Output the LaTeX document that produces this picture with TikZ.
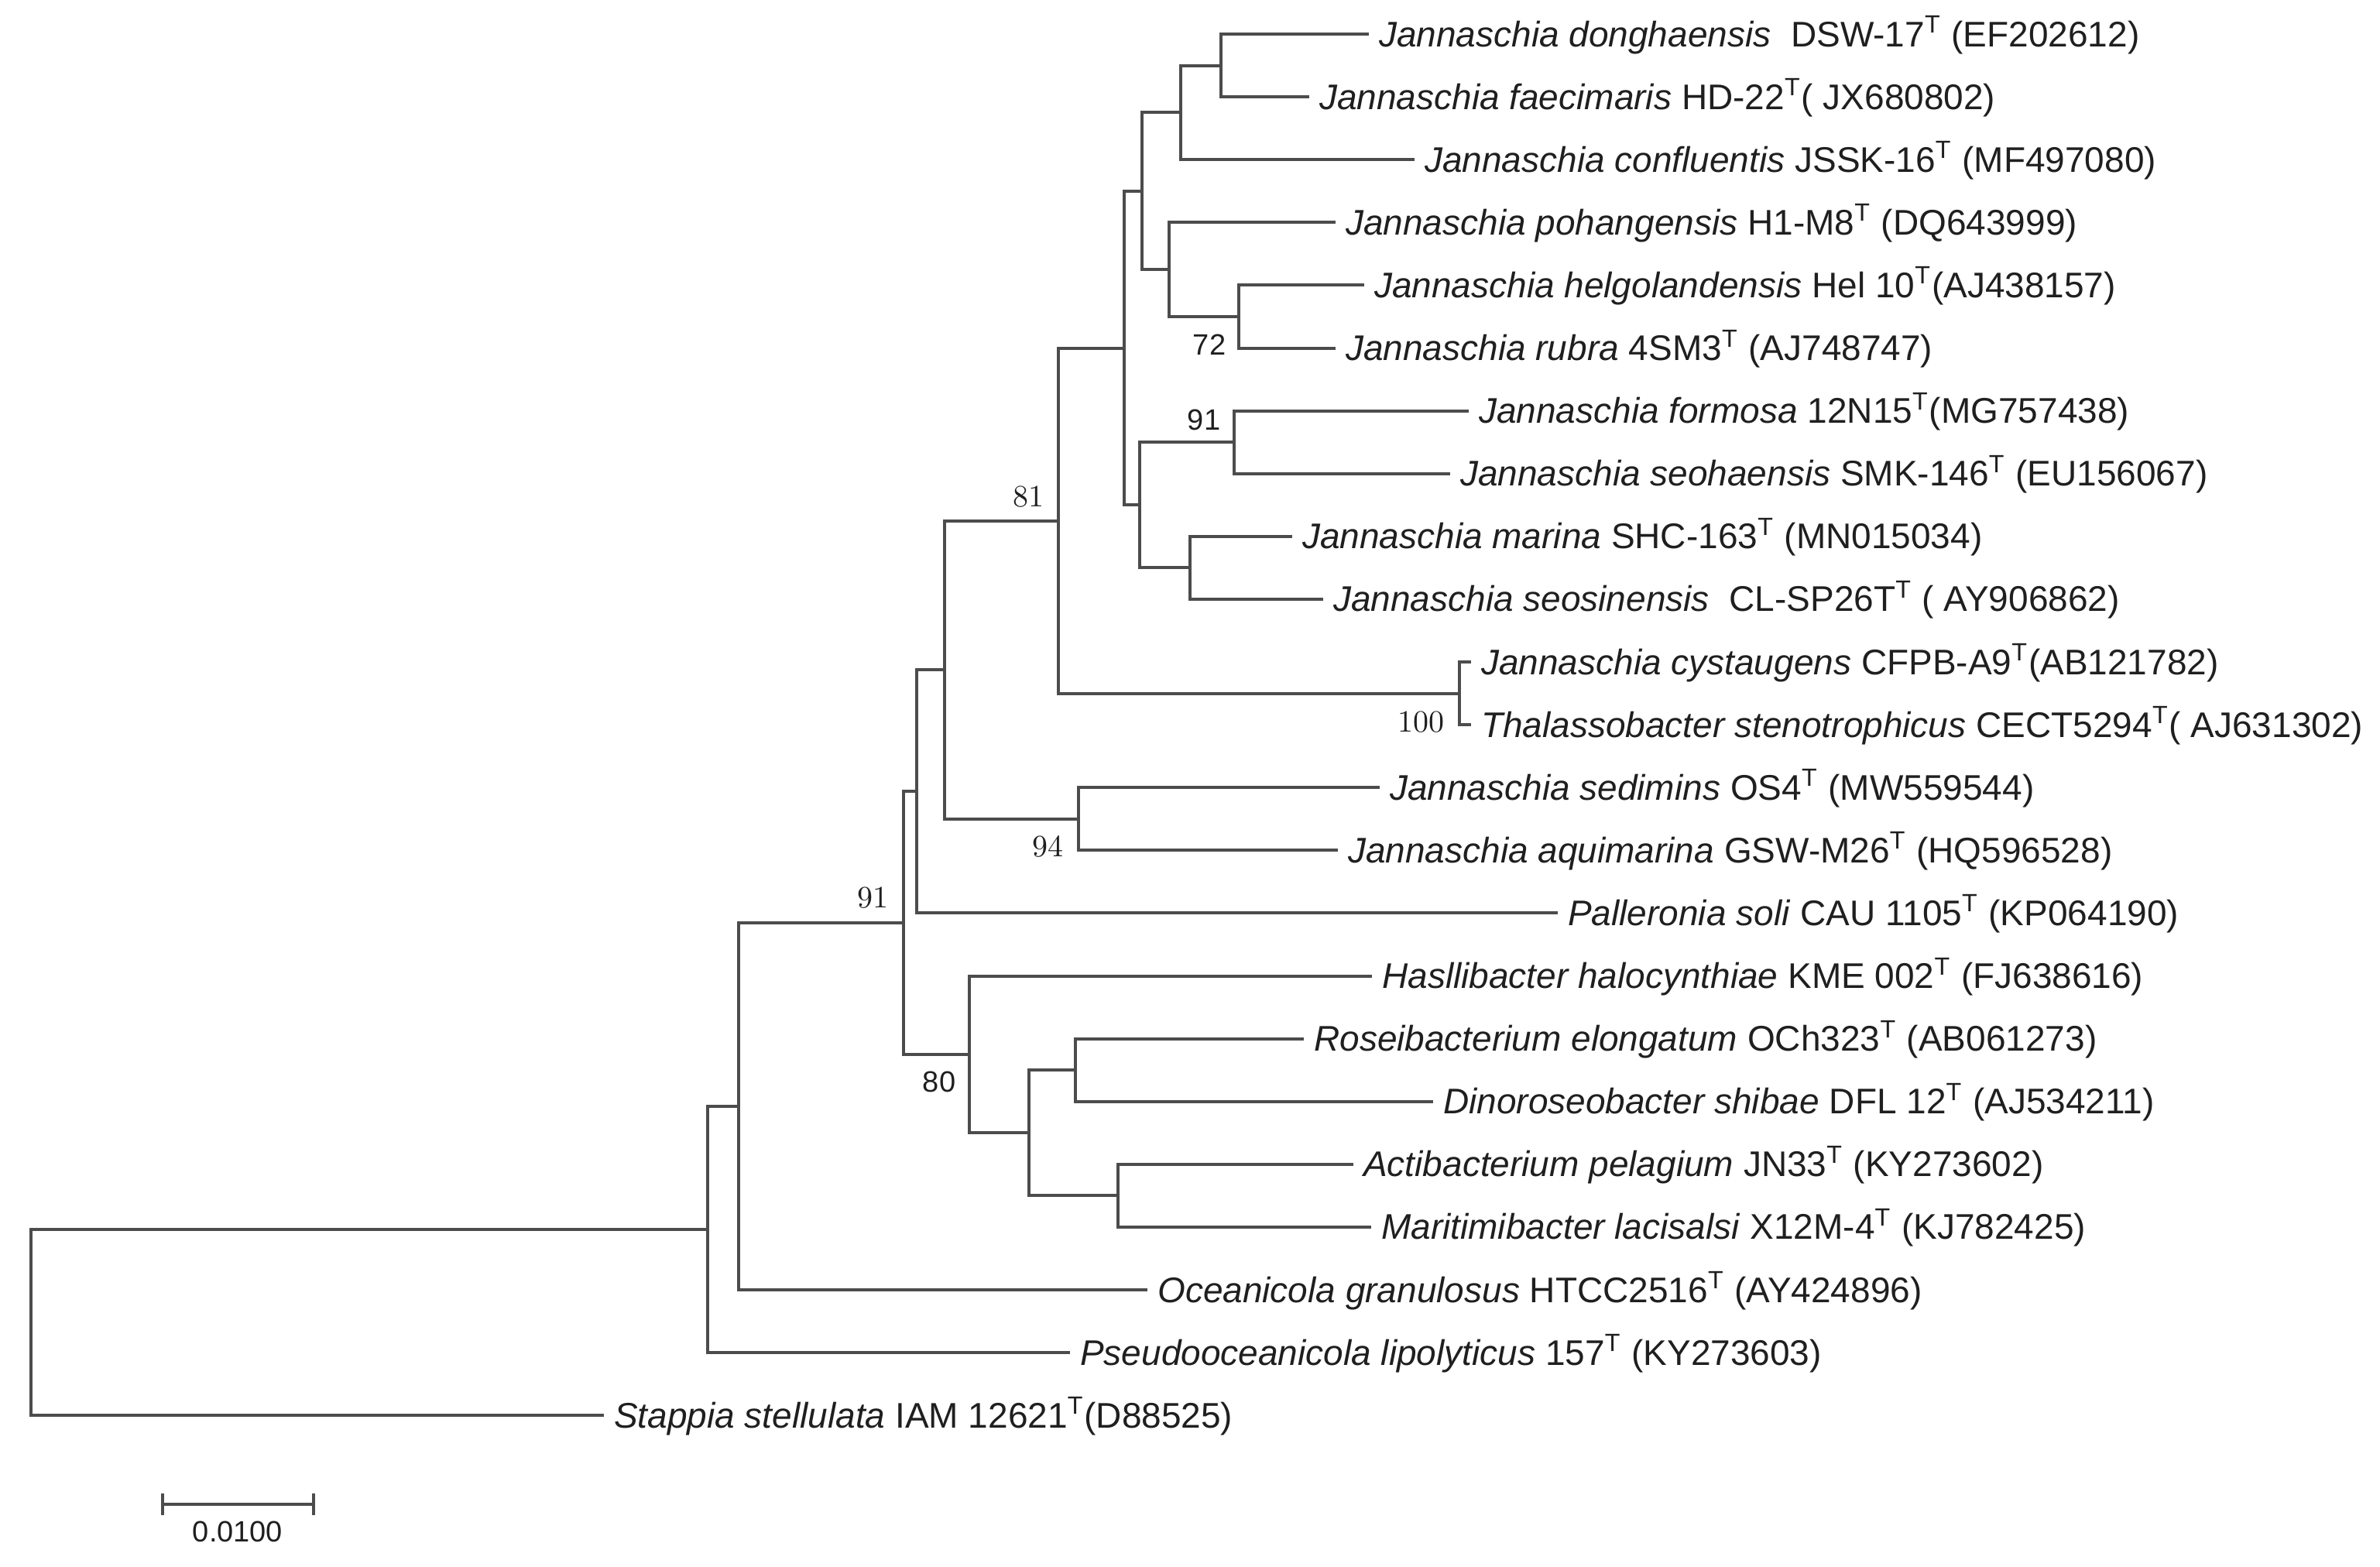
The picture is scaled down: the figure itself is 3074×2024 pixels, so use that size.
\documentclass[tikz,border=0pt]{standalone}
\usepackage{fontspec}
\newfontfamily\arialf{Liberation Sans}
\begin{document}
\begin{tikzpicture}[x=0.25pt,y=-0.25pt,
  br/.style={draw=black!70, line width=1pt, line cap=rect, line join=miter},
  leaf/.style={anchor=base west, inner sep=0pt, xshift=3.6pt, yshift=-4pt,
    font=\arialf\fontsize{11.5}{13}\selectfont, text=black!88},
  bss/.style={inner sep=0pt, font=\arialf\fontsize{9.5}{11}\selectfont, text=black!88},
  bsr/.style={inner sep=0pt, font=\rmfamily\fontsize{10}{12}\selectfont, text=black!88}]
\useasboundingbox (0,0) rectangle (3074,2024);

% leaf ends
\coordinate (l1) at (1766,44);
\coordinate (l2) at (1689,125.1);
\coordinate (l3) at (1825,206.2);
\coordinate (l4) at (1723,287.3);
\coordinate (l5) at (1760,368.4);
\coordinate (l6) at (1723,449.5);
\coordinate (l7) at (1895,530.6);
\coordinate (l8) at (1871,611.7);
\coordinate (l9) at (1667,692.8);
\coordinate (l10) at (1707,773.9);
\coordinate (l11) at (1898,855);
\coordinate (l12) at (1898,936.1);
\coordinate (l13) at (1780,1017.2);
\coordinate (l14) at (1726,1098.3);
\coordinate (l15) at (2010,1179.4);
\coordinate (l16) at (1770,1260.5);
\coordinate (l17) at (1682,1341.6);
\coordinate (l18) at (1849,1422.7);
\coordinate (l19) at (1746,1503.8);
\coordinate (l20) at (1769,1584.9);
\coordinate (l21) at (1480,1666);
\coordinate (l22) at (1380,1747.1);
\coordinate (l23) at (778,1828.2);

% internal nodes
\coordinate (n1) at (1577,84.55);
\coordinate (n2) at (1525,145.4);
\coordinate (n4) at (1600,408.95);
\coordinate (n5) at (1510,348.1);
\coordinate (n3) at (1475,246.75);
\coordinate (n7) at (1594,571.15);
\coordinate (n9) at (1537,733.35);
\coordinate (n8) at (1472,652.25);
\coordinate (n6) at (1452,449.5);
\coordinate (n11) at (1885,895.55);
\coordinate (n10) at (1367,672.5);
\coordinate (n13) at (1393,1057.75);
\coordinate (n12) at (1220,865.1);
\coordinate (n14) at (1184,1022.25);
\coordinate (n17) at (1389,1382.15);
\coordinate (n19) at (1444,1544.35);
\coordinate (n18) at (1329,1463.25);
\coordinate (n16) at (1252,1361.9);
\coordinate (n15) at (1167,1192.1);
\coordinate (n20) at (954,1429.05);
\coordinate (n21) at (914,1588.1);
\coordinate (root) at (40,1708.15);

% branches
\draw[br] (n1) |- (l1); \draw[br] (n1) |- (l2);
\draw[br] (n2) |- (n1); \draw[br] (n2) |- (l3);
\draw[br] (n4) |- (l5); \draw[br] (n4) |- (l6);
\draw[br] (n5) |- (l4); \draw[br] (n5) |- (n4);
\draw[br] (n3) |- (n2); \draw[br] (n3) |- (n5);
\draw[br] (n7) |- (l7); \draw[br] (n7) |- (l8);
\draw[br] (n9) |- (l9); \draw[br] (n9) |- (l10);
\draw[br] (n8) |- (n7); \draw[br] (n8) |- (n9);
\draw[br] (n6) |- (n3); \draw[br] (n6) |- (n8);
\draw[br] (n11) |- (l11); \draw[br] (n11) |- (l12);
\draw[br] (n10) |- (n6); \draw[br] (n10) |- (n11);
\draw[br] (n13) |- (l13); \draw[br] (n13) |- (l14);
\draw[br] (n12) |- (n10); \draw[br] (n12) |- (n13);
\draw[br] (n14) |- (n12); \draw[br] (n14) |- (l15);
\draw[br] (n17) |- (l17); \draw[br] (n17) |- (l18);
\draw[br] (n19) |- (l19); \draw[br] (n19) |- (l20);
\draw[br] (n18) |- (n17); \draw[br] (n18) |- (n19);
\draw[br] (n16) |- (l16); \draw[br] (n16) |- (n18);
\draw[br] (n15) |- (n14); \draw[br] (n15) |- (n16);
\draw[br] (n20) |- (n15); \draw[br] (n20) |- (l21);
\draw[br] (n21) |- (n20); \draw[br] (n21) |- (l22);
\draw[br] (root) |- (n21); \draw[br] (root) |- (l23);

% leaf labels
\node[leaf] (t1) at (l1) {\textit{Jannaschia donghaensis}\ \ DSW-17\textsuperscript{T} (EF202612)};
\node[leaf] (t2) at (l2) {\textit{Jannaschia faecimaris} HD-22\textsuperscript{T}( JX680802)};
\node[leaf] (t3) at (l3) {\textit{Jannaschia confluentis} JSSK-16\textsuperscript{T} (MF497080)};
\node[leaf] (t4) at (l4) {\textit{Jannaschia pohangensis} H1-M8\textsuperscript{T} (DQ643999)};
\node[leaf] (t5) at (l5) {\textit{Jannaschia helgolandensis} Hel 10\textsuperscript{T}(AJ438157)};
\node[leaf] (t6) at (l6) {\textit{Jannaschia rubra} 4SM3\textsuperscript{T} (AJ748747)};
\node[leaf] (t7) at (l7) {\textit{Jannaschia formosa} 12N15\textsuperscript{T}(MG757438)};
\node[leaf] (t8) at (l8) {\textit{Jannaschia seohaensis} SMK-146\textsuperscript{T} (EU156067)};
\node[leaf] (t9) at (l9) {\textit{Jannaschia marina} SHC-163\textsuperscript{T} (MN015034)};
\node[leaf] (t10) at (l10) {\textit{Jannaschia seosinensis}\ \ CL-SP26T\textsuperscript{T} ( AY906862)};
\node[leaf] (t11) at (l11) {\textit{Jannaschia cystaugens} CFPB-A9\textsuperscript{T}(AB121782)};
\node[leaf] (t12) at (l12) {\textit{Thalassobacter stenotrophicus} CECT5294\textsuperscript{T}( AJ631302)};
\node[leaf] (t13) at (l13) {\textit{Jannaschia sedimins} OS4\textsuperscript{T} (MW559544)};
\node[leaf] (t14) at (l14) {\textit{Jannaschia aquimarina} GSW-M26\textsuperscript{T} (HQ596528)};
\node[leaf] (t15) at (l15) {\textit{Palleronia soli} CAU 1105\textsuperscript{T} (KP064190)};
\node[leaf] (t16) at (l16) {\textit{Hasllibacter halocynthiae} KME 002\textsuperscript{T} (FJ638616)};
\node[leaf] (t17) at (l17) {\textit{Roseibacterium elongatum} OCh323\textsuperscript{T} (AB061273)};
\node[leaf] (t18) at (l18) {\textit{Dinoroseobacter shibae} DFL 12\textsuperscript{T} (AJ534211)};
\node[leaf] (t19) at (l19) {\textit{Actibacterium pelagium} JN33\textsuperscript{T} (KY273602)};
\node[leaf] (t20) at (l20) {\textit{Maritimibacter lacisalsi} X12M-4\textsuperscript{T} (KJ782425)};
\node[leaf] (t21) at (l21) {\textit{Oceanicola granulosus} HTCC2516\textsuperscript{T} (AY424896)};
\node[leaf] (t22) at (l22) {\textit{Pseudooceanicola lipolyticus} 157\textsuperscript{T} (KY273603)};
\node[leaf] (t23) at (l23) {\textit{Stappia stellulata} IAM 12621\textsuperscript{T}(D88525)};

% bootstrap values
\node[bss] (b72) at (1562,445) {72};
\node[bss] (b91a) at (1555,542) {91};
\node[bsr] (b81) at (1328,642) {81};
\node[bsr] (b100) at (1835,933) {100};
\node[bsr] (b94) at (1353,1093) {94};
\node[bsr] (b91b) at (1127,1160) {91};
\node[bss] (b80) at (1213,1397) {80};

% scale bar
\coordinate (s1) at (210,1943);
\coordinate (s2) at (405,1943);
\draw[br] (s1) -- (s2);
\draw[br, line cap=butt] ([yshift=3.5pt]s1) -- ([yshift=-3.5pt]s1);
\draw[br, line cap=butt] ([yshift=3.5pt]s2) -- ([yshift=-3.5pt]s2);
\node[bss] (sbl) at (307,1978) {0.0100};
\end{tikzpicture}
\end{document}
